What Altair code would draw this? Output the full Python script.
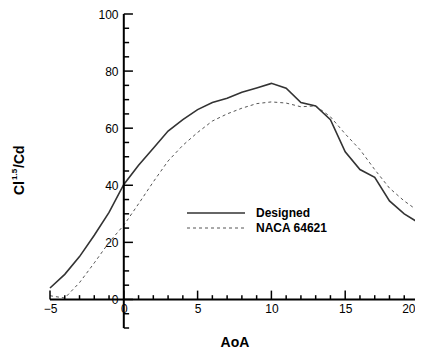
import altair as alt
import pandas as pd

# Data
aoa = [-5, -4, -3, -2, -1, 0, 1, 2, 3, 4, 5, 6, 7, 8, 9, 10, 11, 12, 13, 14, 15, 16, 17, 18, 19, 20]
designed = [4.0, 8.8, 15.0, 22.5, 30.5, 40.3, 47.0, 53.0, 59.0, 63.0, 66.5, 69.0, 70.5, 72.6, 74.1, 75.7,
            74.0, 69.0, 67.8, 63.0, 51.7, 45.5, 42.8, 34.5, 30.0, 26.8]
naca = [1.3, 0.5, 5.9, 12.8, 20.0, 26.0, 33.5, 41.2, 48.5, 54.0, 58.5, 62.5, 65.0, 67.0, 68.6, 69.2,
        68.8, 67.5, 67.8, 64.0, 58.0, 52.5, 45.5, 39.0, 34.5, 30.8]

legend_names = ["Designed", "NACA 64621"]
x_major = [-5, 0, 5, 10, 15, 20]
x_minor = [v for v in range(-5, 21) if v % 5 != 0]
y_major = [0, 20, 40, 60, 80, 100]
y_minor = [v for v in range(-10, 101, 5) if v % 20 != 0]

FONT = "Liberation Sans"

df = pd.DataFrame({"aoa": aoa, "designed": designed, "naca": naca})

xs = alt.Scale(domain=[-5, 20], nice=False, zero=False)
ys = alt.Scale(domain=[-10, 100], nice=False, zero=False)

x_axis = alt.Axis(values=x_major, domain=False, ticks=False, grid=False, offset=-29,
                  labelPadding=4, labelFont=FONT, labelFontSize=12, labelColor="black",
                  labelAlign={"condition": {"test": "datum.value == 20", "value": "right"}, "value": "center"},
                  labelOffset={"condition": {"test": "datum.value == 20", "value": -4}, "value": 0},
                  title="AoA", titleFont=FONT, titleFontSize=14, titleFontWeight="bold",
                  titleColor="black", titlePadding=21)
y_axis = alt.Axis(values=y_major, domain=False, ticks=False, grid=False, offset=-74,
                  labelPadding=6, labelFont=FONT, labelFontSize=12, labelColor="black",
                  title=None)

line_designed = alt.Chart(df).mark_line(color="#333333", strokeWidth=1.6).encode(
    x=alt.X("aoa:Q", scale=xs, axis=x_axis),
    y=alt.Y("designed:Q", scale=ys, axis=y_axis),
)
line_naca = alt.Chart(df).mark_line(color="#555555", strokeWidth=1, strokeDash=[3, 3]).encode(
    x=alt.X("aoa:Q", scale=xs),
    y=alt.Y("naca:Q", scale=ys),
)

# axis lines
xline = alt.Chart(pd.DataFrame({"a": [-5], "b": [20], "y": [0]})).mark_rule(color="black", strokeWidth=2).encode(
    x=alt.X("a:Q", scale=xs), x2="b:Q", y=alt.Y("y:Q", scale=ys))
yline = alt.Chart(pd.DataFrame({"a": [-10], "b": [100], "x": [0]})).mark_rule(color="black", strokeWidth=2).encode(
    y=alt.Y("a:Q", scale=ys), y2="b:Q", x=alt.X("x:Q", scale=xs))

# ticks
xt = pd.DataFrame({"v": x_major + x_minor,
                   "y0": [0] * (len(x_major) + len(x_minor)),
                   "y1": [3.1] * len(x_major) + [1.5] * len(x_minor)})
xticks = alt.Chart(xt).mark_rule(color="black", strokeWidth=1.5).encode(
    x=alt.X("v:Q", scale=xs), y=alt.Y("y0:Q", scale=ys), y2="y1:Q")
yt = pd.DataFrame({"v": y_major + y_minor,
                   "x0": [0] * (len(y_major) + len(y_minor)),
                   "x1": [0.62] * len(y_major) + [0.36] * len(y_minor)})
yticks = alt.Chart(yt).mark_rule(color="black", strokeWidth=1.5).encode(
    y=alt.Y("v:Q", scale=ys), x=alt.X("x0:Q", scale=xs), x2="x1:Q")

# legend
leg = pd.DataFrame({"name": legend_names, "row": [0, 1]})
leg_solid = alt.Chart(leg[leg.row == 0]).mark_rule(color="#333333", strokeWidth=1.6).encode(
    x=alt.value(137), x2=alt.value(195), y=alt.value(199))
leg_dash = alt.Chart(leg[leg.row == 1]).mark_rule(color="#555555", strokeWidth=1, strokeDash=[3, 3]).encode(
    x=alt.value(137), x2=alt.value(195), y=alt.value(214))
leg_text0 = alt.Chart(leg[leg.row == 0]).mark_text(align="left", baseline="middle", font=FONT,
                                                   fontSize=12, fontWeight="bold", color="black").encode(
    x=alt.value(206), y=alt.value(199), text="name:N")
leg_text1 = alt.Chart(leg[leg.row == 1]).mark_text(align="left", baseline="middle", font=FONT,
                                                   fontSize=12, fontWeight="bold", color="black").encode(
    x=alt.value(206), y=alt.value(214), text="name:N")

# y title with superscript
tt = pd.DataFrame({"t": ["Cl", "1.5", "/Cd"]})
t_cl = alt.Chart(tt.iloc[[0]]).mark_text(angle=270, align="left", baseline="alphabetic", font=FONT,
                                          fontSize=14, fontWeight="bold", color="black").encode(
    x=alt.value(-26.5), y=alt.value(181), text="t:N")
t_sup = alt.Chart(tt.iloc[[1]]).mark_text(angle=270, align="left", baseline="alphabetic", font=FONT,
                                           fontSize=8, fontWeight="bold", color="black").encode(
    x=alt.value(-33.5), y=alt.value(166), text="t:N")
t_cd = alt.Chart(tt.iloc[[2]]).mark_text(angle=270, align="left", baseline="alphabetic", font=FONT,
                                          fontSize=14, fontWeight="bold", color="black").encode(
    x=alt.value(-26.5), y=alt.value(154), text="t:N")

chart = alt.layer(
    line_naca, line_designed, xline, yline, xticks, yticks,
    leg_solid, leg_dash, leg_text0, leg_text1, t_cl, t_sup, t_cd
).properties(
    width=369, height=314,
    autosize=alt.AutoSizeParams(type="none"),
    padding={"left": 42, "top": 6, "right": -4, "bottom": 20},
).configure_view(stroke=None)

chart.save("out.html", embed_options={"renderer": "svg", "actions": False})
